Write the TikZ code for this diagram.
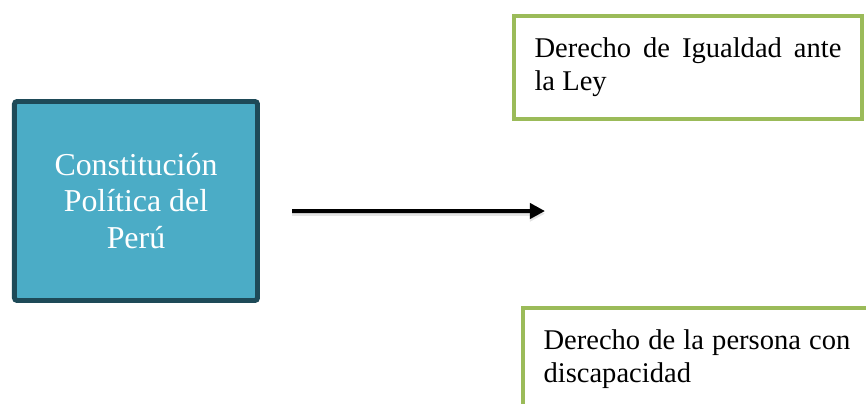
\documentclass[tikz,border=0pt]{standalone}
\usepackage{fontspec}
\setmainfont{Liberation Serif}
\usetikzlibrary{arrows.meta, positioning, calc}

\definecolor{cppfill}{RGB}{75,172,198}
\definecolor{cppdraw}{RGB}{30,74,88}
\definecolor{derdraw}{RGB}{155,187,89}

\begin{document}
\begin{tikzpicture}[
    mainbox/.style = {rectangle, draw=cppdraw, fill=cppfill, line width=3.75pt,
                      rounded corners=2pt, minimum width=6.43cm, minimum height=5.265cm,
                      text=white, align=center,
                      font=\fontsize{24}{27.5}\selectfont},
    rightsbox/.style = {rectangle, draw=derdraw, fill=white, line width=3pt,
                        minimum width=9.207cm, minimum height=2.725cm,
                        text width=8.12cm, align=justify, inner xsep=0pt,
                        font=\fontsize{21.5}{24.5}\selectfont},
    arr/.style = {-{Triangle[length=4mm, width=4mm]}, line width=3pt, black},
    arrshadow/.style = {preaction={draw=black!30, opacity=0.35, line width=3.5pt,
                        transform canvas={yshift=-2pt}}},
]
\useasboundingbox (0,0) rectangle (22.913,-10.663);

%% ---- Source box ----
\node[mainbox] (cpp) at (3.598,-5.318)
    {Constitución\\Política del\\Perú};

%% ---- Rights boxes ----
\node[rightsbox] (igualdad) at (18.203,-1.78)
    {Derecho de Igualdad ante la Ley};
\node[rightsbox] (discap) at (18.441,-9.50)
    {Derecho de la persona con discapacidad};

%% ---- Arrow ----
\coordinate (tip) at (14.42,-5.583);
\draw[arr, arrshadow] ([xshift=0.85cm, yshift=-0.265cm]cpp.east) -- (tip);

\end{tikzpicture}
\end{document}
